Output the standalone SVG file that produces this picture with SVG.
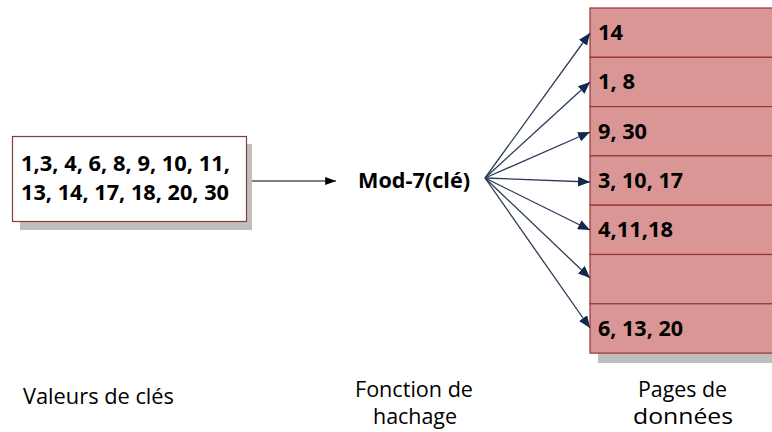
<svg xmlns="http://www.w3.org/2000/svg" width="772" height="432" viewBox="0 0 772 432">
<defs>
<style>
.t{font-family:"Open Sans","Noto Sans","DejaVu Sans",sans-serif;fill:#000}
.b{font-weight:bold}
.lbl{font-size:22px}
.row{fill:#d99694;stroke:#943634;stroke-width:1.2}
.con{stroke:#2a3b58;stroke-width:1.3;fill:none;marker-end:url(#ah)}
</style>
<marker id="ah" viewBox="0 0 12 10" refX="12" refY="5" markerWidth="12" markerHeight="10" markerUnits="userSpaceOnUse" orient="auto">
<path d="M0,0 L12,5 L0,10 z" fill="#13294b"/>
</marker>
<marker id="ahk" viewBox="0 0 12 10" refX="12" refY="5" markerWidth="12" markerHeight="9" markerUnits="userSpaceOnUse" orient="auto">
<path d="M0,0.5 L12,5 L0,9.5 z" fill="#000"/>
</marker>
</defs>
<rect width="772" height="432" fill="#fff"/>

<g id="keys">
<rect x="20" y="144" width="232" height="86" fill="#bfbfbf"/>
<rect x="12.5" y="136.5" width="234" height="85" fill="#fff" stroke="#8b3a3a" stroke-width="1.2"/>
<text class="t b" x="21" y="171" font-size="21" textLength="209" lengthAdjust="spacingAndGlyphs">1,3, 4, 6, 8, 9, 10, 11,</text>
<text class="t b" x="21" y="200" font-size="21" textLength="208" lengthAdjust="spacingAndGlyphs">13, 14, 17, 18, 20, 30</text>
</g>

<g id="hash">
<text class="t b" x="358" y="188" font-size="21" textLength="112" lengthAdjust="spacingAndGlyphs">Mod-7(clé)</text>
</g>

<g id="pages">
<rect x="598" y="353" width="174" height="10" fill="#bfbfbf"/>
<rect class="row" x="590" y="8" width="190" height="49.3"/>
<rect class="row" x="590" y="57.3" width="190" height="49.3"/>
<rect class="row" x="590" y="106.6" width="190" height="49.3"/>
<rect class="row" x="590" y="155.9" width="190" height="49.3"/>
<rect class="row" x="590" y="205.2" width="190" height="49.3"/>
<rect class="row" x="590" y="254.5" width="190" height="49.3"/>
<rect class="row" x="590" y="303.8" width="190" height="49.3"/>
<g class="t b" font-size="22">
<text x="598" y="40" textLength="25" lengthAdjust="spacingAndGlyphs">14</text>
<text x="598" y="89" textLength="37" lengthAdjust="spacingAndGlyphs">1, 8</text>
<text x="598" y="139" textLength="49" lengthAdjust="spacingAndGlyphs">9, 30</text>
<text x="598" y="188" textLength="85" lengthAdjust="spacingAndGlyphs">3, 10, 17</text>
<text x="598" y="237" textLength="75" lengthAdjust="spacingAndGlyphs">4,11,18</text>
<text x="598" y="336" textLength="85" lengthAdjust="spacingAndGlyphs">6, 13, 20</text>
</g>
</g>

<g id="connectors">
<line x1="252" y1="181" x2="336" y2="181" stroke="#000" stroke-width="1.2" marker-end="url(#ahk)"/>
<line class="con" x1="485" y1="178" x2="590" y2="33"/>
<line class="con" x1="485" y1="178" x2="590" y2="82"/>
<line class="con" x1="485" y1="178" x2="590" y2="132"/>
<line class="con" x1="485" y1="178" x2="590" y2="182"/>
<line class="con" x1="485" y1="178" x2="590" y2="230"/>
<line class="con" x1="485" y1="178" x2="590" y2="278"/>
<line class="con" x1="485" y1="178" x2="590" y2="328"/>
</g>

<g id="labels">
<text class="t lbl" x="23" y="404" textLength="151" lengthAdjust="spacingAndGlyphs">Valeurs de clés</text>
<text class="t lbl" x="355" y="397" textLength="118" lengthAdjust="spacingAndGlyphs">Fonction de</text>
<text class="t lbl" x="373" y="424" textLength="84" lengthAdjust="spacingAndGlyphs">hachage</text>
<text class="t lbl" x="638" y="397" textLength="89" lengthAdjust="spacingAndGlyphs">Pages de</text>
<text class="t lbl" x="633" y="424" textLength="100" lengthAdjust="spacingAndGlyphs">données</text>
</g>
</svg>
